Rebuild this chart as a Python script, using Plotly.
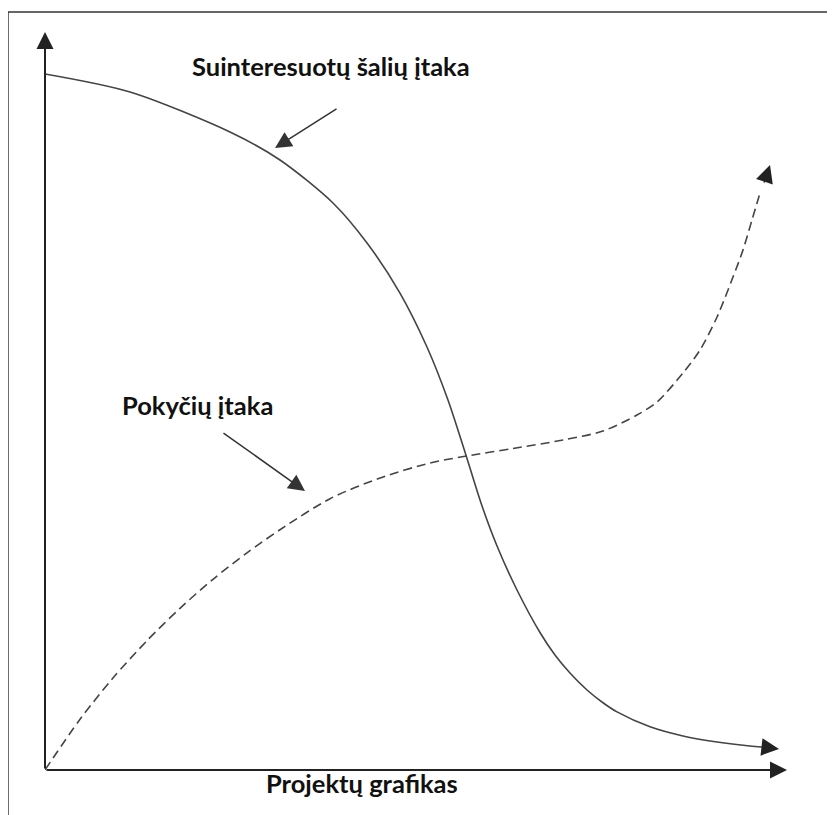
import plotly.graph_objects as go

# Stakeholder influence (solid curve), in chart units (x: 0-100 schedule, y: 0-100 influence)
stake_x = [0, 11.46, 24.93, 31.67, 38.81, 43.40, 47.84, 51.48, 54.31, 56.60, 58.76, 60.92,
           63.61, 66.71, 68.73, 70.75, 73.05, 75.20, 77.09, 81.54, 85.98, 90.57, 95.01, 96.63]
stake_y = [94.31, 91.87, 86.45, 82.66, 76.83, 71.41, 64.63, 57.32, 50.14, 43.09, 36.18, 30.35,
           24.39, 18.63, 15.58, 13.14, 10.84, 9.11, 7.87, 5.85, 4.61, 3.79, 3.25, 3.12]
stake_tip = (98.92, 2.85)

# Change influence (dashed curve)
change_x = [0, 4.72, 9.16, 13.75, 18.19, 22.64, 27.22, 31.67, 38.41, 45.15, 51.89, 56.87,
            63.07, 69.81, 75.20, 79.78, 82.48, 85.98, 88.27, 90.57, 92.72, 94.07, 95.28, 96.36]
change_y = [0, 6.87, 12.47, 17.53, 21.91, 25.84, 29.43, 32.56, 36.76, 39.57, 41.60, 42.55,
            43.56, 44.72, 45.93, 48.10, 49.86, 53.79, 56.91, 61.38, 66.80, 70.46, 74.53, 78.18]
change_tail = (96.85, 79.40)
change_tip = (97.71, 81.98)

labels = ["Suinteresuotų šalių įtaka", "Pokyčių įtaka", "Projektų grafikas"]

# page body has an 8px margin, so the figure is 8px smaller on each axis
W, H = 827, 807
ML, MR, MT, MB = 37, 48, 24, 45
FONT = dict(family="Lato, 'Open Sans', sans-serif", size=25.5, color="#111")

fig = go.Figure()
fig.add_trace(go.Scatter(x=stake_x, y=stake_y, mode="lines",
                         line=dict(color="#444", width=1.6, shape="spline", smoothing=0.8),
                         hoverinfo="skip"))
fig.add_trace(go.Scatter(x=change_x, y=change_y, mode="lines",
                         line=dict(color="#444", width=1.6, dash="9px,5px", shape="spline",
                                   smoothing=0.8),
                         hoverinfo="skip"))

def arrow(tail, tip, width, size, color="#222"):
    fig.add_annotation(x=tip[0], y=tip[1], ax=tail[0], ay=tail[1],
                       xref="x", yref="y", axref="x", ayref="y",
                       text="", showarrow=True, arrowhead=2, arrowsize=size,
                       arrowwidth=width, arrowcolor=color, standoff=0, startstandoff=0)

# axes with arrowheads
arrow((0, 0), (0, 100), 2, 1.7, "#222")
arrow((0, 0), (100, 0), 2, 1.7, "#222")
# curve arrowheads
arrow((stake_x[-1], stake_y[-1]), stake_tip, 1.6, 2.2, "#222")
arrow(change_tail, change_tip, 1.6, 2.2, "#222")
# pointer arrows
arrow((39.49, 89.70), (31.0, 84.28), 1.5, 2.2, "#333")
arrow((23.85, 45.80), (35.04, 37.80), 1.5, 2.2, "#333")

# text labels
fig.add_annotation(x=38.54, y=95.39, xref="x", yref="y", text="<b>%s</b>" % labels[0],
                   showarrow=False, font=FONT)
fig.add_annotation(x=20.5, y=49.46, xref="x", yref="y", text="<b>%s</b>" % labels[1],
                   showarrow=False, font=FONT)
fig.add_annotation(x=0.427, y=-0.0407, xref="paper", yref="paper",
                   text="<b>%s</b>" % labels[2], showarrow=False, font=FONT)

# outer frame (top and left edges)
fig.add_shape(type="line", xref="paper", yref="paper", x0=-0.0499, x1=1.07, y0=1.0271, y1=1.0271,
              line=dict(color="#333", width=1.5))
fig.add_shape(type="line", xref="paper", yref="paper", x0=-0.0499, x1=-0.0499, y0=1.0271, y1=-0.07,
              line=dict(color="#333", width=1.5))

fig.update_xaxes(range=[0, 100], visible=False, fixedrange=True)
fig.update_yaxes(range=[0, 100], visible=False, fixedrange=True)
fig.update_layout(width=W, height=H, margin=dict(l=ML, r=MR, t=MT, b=MB),
                  paper_bgcolor="white", plot_bgcolor="white", showlegend=False)

fig.write_html("out.html", config={"displayModeBar": False})
